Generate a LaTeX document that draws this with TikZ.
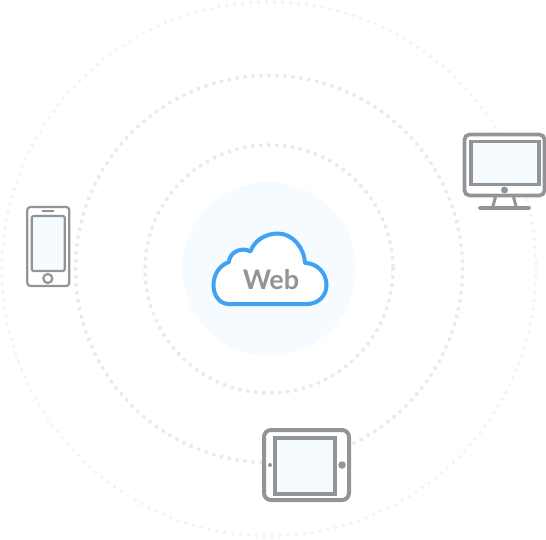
\documentclass[tikz,border=0pt]{standalone}
\usepackage{fontspec}
\setsansfont{Lato}
\definecolor{webBlue}{RGB}{66,160,245}
\definecolor{webPale}{RGB}{246,251,255}
\definecolor{webGray}{RGB}{146,148,151}
\definecolor{webDot}{RGB}{234,234,234}
\definecolor{webDotLight}{RGB}{243,243,243}
\usetikzlibrary{positioning}

\begin{document}
\begin{tikzpicture}[
  x=1pt, y=-1pt,
  ring/.style={dash pattern=on 0pt off 8pt, line cap=round, line width=4pt, draw=webDot},
  shell/.style={draw=webGray, fill=white, rounded corners=5pt, inner sep=0pt, line width=3.6pt},
  screen/.style={draw=webGray, fill=webPale, inner sep=0pt, line width=3.6pt},
  knob/.style={circle, fill=webGray, inner sep=0pt}
]
  \useasboundingbox (0,0) rectangle (546,539);

  \node[circle, fill=webPale, minimum size=174pt, inner sep=0pt] (hub) at (269,269) {};

  % dotted rings
  \draw[ring, draw=webDotLight, line width=3.8pt] (269,269) circle[radius=267];
  \draw[ring] (269,269) circle[radius=193.5];
  \draw[ring] (269,269) circle[radius=124];

  % cloud
  \draw[webBlue, line width=4pt, fill=white, line join=round]
    (229,304) .. controls (219,304) and (213.5,295) .. (213.5,285)
    .. controls (213.5,274) and (220,265) .. (229,262)
    .. controls (229,253) and (241,246) .. (250.5,251.5)
    .. controls (254,241) and (265,233.5) .. (278,233.5)
    .. controls (292,233.5) and (304,247) .. (305,263)
    .. controls (317,263) and (326.5,273) .. (326.5,285)
    .. controls (326.5,296) and (318,304) .. (307,304) -- cycle;
  \node[font=\sffamily\bfseries\fontsize{27}{27}\selectfont, text=webGray, inner sep=0pt] (web) at (271,280) {Web};

  % monitor
  \node[shell, minimum width=80pt, minimum height=61pt] (monitor) at (504.5,165) {};
  \node[screen, minimum width=68pt, minimum height=43pt, rounded corners=0pt] (monitorscreen) at (505,163) {};
  \node[knob, minimum size=7pt] (monitorknob) at (504.5,190) {};
  \draw[webGray, line width=3pt] (495.5,197) -- (492.5,208);
  \draw[webGray, line width=3pt] (513.5,197) -- (516.5,208);
  \draw[webGray, line width=3.6pt, line cap=round] (480,208) -- (529,208);

  % phone
  \node[shell, line width=2.2pt, rounded corners=3pt, minimum width=42pt, minimum height=79pt] (phone) at (48.3,246.5) {};
  \node[screen, line width=2.2pt, rounded corners=2pt, minimum width=33pt, minimum height=55pt] (phonescreen) at (48.3,243.5) {};
  \draw[webGray, line width=2pt] (42,210.5) -- (54,210.5);
  \node[circle, draw=webGray, line width=2.2pt, minimum size=9pt, inner sep=0pt] (phoneknob) at (47.8,278.5) {};

  % tablet
  \node[shell, line width=4pt, rounded corners=7pt, minimum width=85pt, minimum height=70pt] (tablet) at (306.5,465) {};
  \node[screen, line width=4pt, minimum width=60pt, minimum height=56pt] (tabletscreen) at (304.5,465.5) {};
  \node[knob, minimum size=4pt] (tabletcam) at (270,465) {};
  \node[knob, minimum size=7.5pt] (tabletknob) at (342,465) {};
\end{tikzpicture}
\end{document}
